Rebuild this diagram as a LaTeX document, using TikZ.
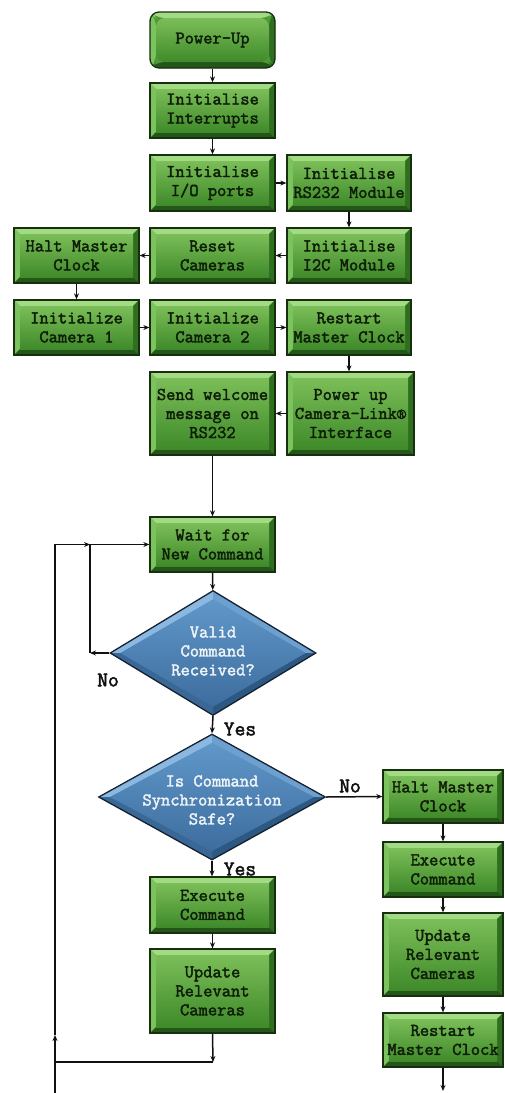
\documentclass[tikz,border=0pt]{standalone}
\usepackage{fontspec}
\newfontfamily\cfont{Latin Modern Mono}[FakeBold=2.2]
\usetikzlibrary{arrows.meta,shapes.geometric,calc}
\definecolor{gmid}{HTML}{4F9A35}
\definecolor{gtop}{HTML}{A2DA86}
\definecolor{gleft}{HTML}{7CC25E}
\definecolor{gright}{HTML}{2F6E1E}
\definecolor{gbot}{HTML}{24561A}
\definecolor{ginA}{HTML}{7BBE58}
\definecolor{ginB}{HTML}{3F8A2A}
\definecolor{gborder}{HTML}{16300D}
\definecolor{gtext}{HTML}{0E1E07}
\definecolor{dmid}{HTML}{4A7FB0}
\definecolor{dUL}{HTML}{8BB8E0}
\definecolor{dUR}{HTML}{6D9FCF}
\definecolor{dLR}{HTML}{2D5882}
\definecolor{dLL}{HTML}{3A6896}
\definecolor{dinA}{HTML}{6097C9}
\definecolor{dinB}{HTML}{3D6D9E}
\definecolor{dborder}{HTML}{142232}
\definecolor{dtext}{HTML}{EEF3F8}
\definecolor{ink}{HTML}{111111}
\newcommand{\boxfnt}{\fontsize{18}{19}\selectfont\cfont}
\begin{document}
\begin{tikzpicture}[x=1pt,y=-1pt,
  gbox/.style={draw=gborder, line width=1.3pt, fill=gmid,
    minimum width=125pt, minimum height=55pt, inner sep=0pt, align=center,
    text=gtext, font=\boxfnt,
    path picture={
      \fill[gtop] (path picture bounding box.north west) -- (path picture bounding box.north east)
        -- ([shift={(-6pt,-6pt)}]path picture bounding box.north east) -- ([shift={(6pt,-6pt)}]path picture bounding box.north west) -- cycle;
      \fill[gleft] (path picture bounding box.north west) -- (path picture bounding box.south west)
        -- ([shift={(6pt,6pt)}]path picture bounding box.south west) -- ([shift={(6pt,-6pt)}]path picture bounding box.north west) -- cycle;
      \fill[gright] (path picture bounding box.north east) -- (path picture bounding box.south east)
        -- ([shift={(-6pt,6pt)}]path picture bounding box.south east) -- ([shift={(-6pt,-6pt)}]path picture bounding box.north east) -- cycle;
      \fill[gbot] (path picture bounding box.south west) -- (path picture bounding box.south east)
        -- ([shift={(-6pt,6pt)}]path picture bounding box.south east) -- ([shift={(6pt,6pt)}]path picture bounding box.south west) -- cycle;
      \shade[top color=ginA, bottom color=ginB] ([shift={(6pt,-6pt)}]path picture bounding box.north west) rectangle ([shift={(-6pt,6pt)}]path picture bounding box.south east);
    }},
  dmd/.style={diamond, draw=dborder, line width=1.3pt, fill=dmid, inner sep=0pt,
    text=dtext, font=\boxfnt,
    path picture={
      \coordinate (pN) at (path picture bounding box.north);
      \coordinate (pS) at (path picture bounding box.south);
      \coordinate (pE) at (path picture bounding box.east);
      \coordinate (pW) at (path picture bounding box.west);
      \coordinate (pC) at (path picture bounding box.center);
      \coordinate (qN) at ($(pC)!0.86!(pN)$);
      \coordinate (qS) at ($(pC)!0.86!(pS)$);
      \coordinate (qE) at ($(pC)!0.90!(pE)$);
      \coordinate (qW) at ($(pC)!0.90!(pW)$);
      \fill[dUL] (pW) -- (pN) -- (qN) -- (qW) -- cycle;
      \fill[dUR] (pN) -- (pE) -- (qE) -- (qN) -- cycle;
      \fill[dLR] (pE) -- (pS) -- (qS) -- (qE) -- cycle;
      \fill[dLL] (pS) -- (pW) -- (qW) -- (qS) -- cycle;
      \shade[top color=dinA, bottom color=dinB] (qN) -- (qE) -- (qS) -- (qW) -- cycle;
    }},
  lbl/.style={text=ink, inner sep=0pt, font=\fontsize{21}{22}\selectfont\cfont},
  conn/.style={draw=ink, line width=1.5pt},
  arr/.style={conn, -{Stealth[length=6pt,width=5pt]}}
]
\useasboundingbox (0,0) rectangle (505,1093);

% top section
\node[gbox, rounded corners=9pt, minimum height=56pt] (pu) at (212.5,40) {Power-Up};
\node[gbox] (ii) at (212.5,110.5) {Initialise\\Interrupts};
\node[gbox, minimum height=56pt] (io) at (212.5,183) {Initialise\\I/O ports};
\node[gbox, minimum height=56pt, minimum width=124pt] (rs) at (349,183) {Initialise\\RS232 Module};
\node[gbox] (hm1) at (76.5,255.5) {Halt Master\\Clock};
\node[gbox] (rc) at (212.5,255.5) {Reset\\Cameras};
\node[gbox, minimum width=124pt] (i2c) at (349,255.5) {Initialise\\I2C Module};
\node[gbox] (c1) at (76.5,327.5) {Initialize\\Camera 1};
\node[gbox] (c2) at (212.5,327.5) {Initialize\\Camera 2};
\node[gbox, minimum width=124pt] (rmc) at (349,327.5) {Restart\\Master Clock};
\node[gbox, minimum height=83pt] (sw) at (212.5,413.5) {Send welcome\\message on\\RS232};
\node[gbox, minimum height=83pt, minimum width=127pt] (pcl) at (350.5,413.5) {Power up\\Camera-Link®\\Interface};
\node[gbox] (wait) at (212.5,544.5) {Wait for\\New Command};

% decisions
\node[dmd, minimum width=206pt, minimum height=125pt] (d1) at (213,653)
  {\raisebox{-4pt}[0pt][0pt]{\makebox[0pt]{\begin{tabular}{c}Valid\\Command\\Received?\end{tabular}}}};
\node[dmd, minimum width=227pt, minimum height=126pt] (d2) at (212,797)
  {\raisebox{-9pt}[0pt][0pt]{\makebox[0pt]{\begin{tabular}{c}Is Command\\Synchronization\\Safe?\end{tabular}}}};

% left branch
\node[gbox, minimum height=56pt] (ex1) at (212.5,905) {Execute\\Command};
\node[gbox, minimum height=84pt] (up1) at (212.5,991) {Update\\Relevant\\Cameras};

% right branch
\node[gbox, minimum width=120pt, minimum height=53pt] (hm2) at (443,796.5) {Halt Master\\Clock};
\node[gbox, minimum width=120pt] (ex2) at (443,869.5) {Execute\\Command};
\node[gbox, minimum width=120pt, minimum height=83pt] (up2) at (443,954.5) {Update\\Relevant\\Cameras};
\node[gbox, minimum width=120pt, minimum height=54pt] (rm2) at (443,1040) {Restart\\Master Clock};

% labels
\node[lbl] (no1) at (108,680) {No};
\node[lbl] (yes1) at (240,729) {Yes};
\node[lbl] (no2) at (350,786) {No};
\node[lbl] (yes2) at (240,869) {Yes};

% free-end coordinates
\coordinate (n1) at (90,653);
\coordinate (n2) at (90,544.5);
\coordinate (l1) at (55,1093);
\coordinate (l2) at (55,1035);
\coordinate (b1) at (213,1062);
\coordinate (b2) at (55,1062);
\coordinate (e1) at (443,1091);

% connectors
\draw[arr] (pu) -- (ii);
\draw[arr] (ii) -- (io);
\draw[arr] (io) -- (rs);
\draw[arr] (rs) -- (i2c);
\draw[arr] (i2c) -- (rc);
\draw[arr] (rc) -- (hm1);
\draw[arr] (hm1) -- (c1);
\draw[arr] (c1) -- (c2);
\draw[arr] (c2) -- (rmc);
\draw[arr] (rmc.south) -- (rmc.south |- pcl.north);
\draw[arr] (pcl) -- (sw);
\draw[arr] (sw) -- (wait);
\draw[arr] (wait) -- (d1);
\draw[arr] (d1.west) -- (n1);
\draw[arr] (n1) |- (wait.west);
\draw[arr] (l1) -- (l2);
\draw[arr] (l2) |- (n2);
\draw[arr] (d1.south) -- (d2.north);
\draw[arr] (d2.east) -- (hm2.west);
\draw[arr] (d2.south) -- (d2.south |- ex1.north);
\draw[arr] (ex1) -- (up1);
\draw[arr] (up1.south) -- (b1);
\draw[conn] (b1) -- (b2);
\draw[arr] (hm2) -- (ex2);
\draw[arr] (ex2) -- (up2);
\draw[arr] (up2) -- (rm2);
\draw[arr] (rm2) -- (e1);
\end{tikzpicture}
\end{document}
